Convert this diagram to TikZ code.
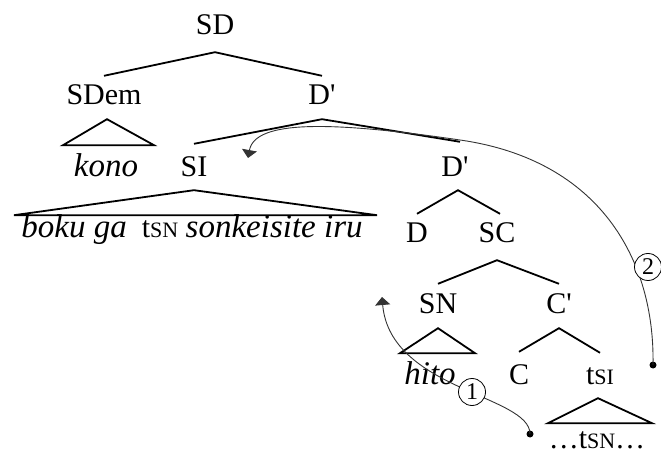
\documentclass[tikz,border=0pt]{standalone}
\usepackage{fontspec}
\setmainfont{Liberation Serif}
\usetikzlibrary{arrows.meta}
\newcommand{\smallcap}[1]{{\fontsize{22}{22}\selectfont #1}}
\newcommand{\leaf}[1]{{\fontsize{33}{36}\selectfont\itshape #1}}
\newcommand{\prm}{\textquotesingle}
\tikzset{
	cat/.style={anchor=base, inner sep=0pt, text height=20pt, text depth=6pt},
	branch/.style={line width=1.8pt},
	move/.style={line width=0.9pt, black!80, -{Triangle[width=15pt,length=8pt]}},
	numcirc/.style={circle, draw, line width=0.8pt, fill=white, inner sep=0pt, minimum size=27pt, font=\fontsize{24}{24}\selectfont},
}
\begin{document}
\begin{tikzpicture}[x=1pt, y=-1pt, font=\fontsize{30}{34}\selectfont]
		\useasboundingbox (0, 0) rectangle (661, 454);
		% categories
		\node[cat] (sd) at (215, 35) {SD};
		\node[cat] (sdem) at (104, 105) {SDem};
		\node[cat] (dbar) at (322, 105) {D\prm};
		\node[cat] (kono) at (106, 177) {\leaf{kono}};
		\node[cat] (si) at (194, 177) {SI};
		\node[cat] (boku) at (192, 238) {\leaf{boku ga}\ \ t\smallcap{SN} \leaf{sonkeisite iru}};
		\node[cat] (dbarb) at (455, 177) {D\prm};
		\node[cat] (d) at (417, 243) {D};
		\node[cat] (sc) at (497, 243) {SC};
		\node[cat] (sn) at (438, 313) {SN};
		\node[cat] (cbar) at (559, 313) {C\prm};
		\node[cat] (hito) at (430, 384) {\leaf{hito}};
		\node[cat] (c) at (519, 384) {C};
		\node[cat] (tsi) at (600, 384) {t\smallcap{SI}};
		\node[cat] (tsn) at (597, 448) {\ldots t\smallcap{SN}\ldots};
		% branches
		\draw[branch] ([yshift=9pt]sdem.north) -- ([yshift=-11pt]sd.south) -- ([yshift=9pt]dbar.north);
		\draw[branch] ([yshift=13pt]si.north) -- ([yshift=-8pt]dbar.south) -- ([xshift=5pt, yshift=15pt]dbarb.north);
		\draw[branch] ([yshift=9pt]d.north) -- ([xshift=3pt, yshift=-7pt]dbarb.south) -- ([xshift=3pt, yshift=9pt]sc.north);
		\draw[branch] ([yshift=9pt]sn.north) -- ([yshift=-11pt]sc.south) -- ([yshift=9pt]cbar.north);
		\draw[branch] ([yshift=12pt]c.north) -- ([yshift=-9pt]cbar.south) -- ([yshift=11pt]tsi.north);
		% roofs
		\draw[branch] ([xshift=3pt, yshift=-8pt]sdem.south) -- ++(-44, 26) -- ++(91, 0) -- cycle;
		\draw[branch] ([yshift=-7pt]si.south) -- ++(-180, 25) -- ++(363, 0) -- cycle;
		\draw[branch] ([yshift=-9pt]sn.south) -- ++(-38, 25) -- ++(75, 0) -- cycle;
		\draw[branch] ([xshift=-2pt, yshift=-8pt]tsi.south) -- ++(-50, 25) -- ++(104, 0) -- cycle;
		% movements
		\coordinate (src1) at (530, 434);
		\coordinate (tgt1) at (382, 297);
		\coordinate (src2) at (653, 365);
		\coordinate (tgt2) at (248, 158);
		\fill (src1) circle (3.5pt);
		\fill (src2) circle (3.5pt);
		\draw[move] (src1) .. controls (530, 395) and (390, 390) .. (tgt1);
		\draw[move] (src2) .. controls (655, 260) and (600, 160) .. (460, 140)
			.. controls (330, 121) and (255, 120) .. (tgt2);
		\node[numcirc] (one) at (472, 392) {1};
		\node[numcirc] (two) at (648, 267) {2};
	\end{tikzpicture}
\end{document}
